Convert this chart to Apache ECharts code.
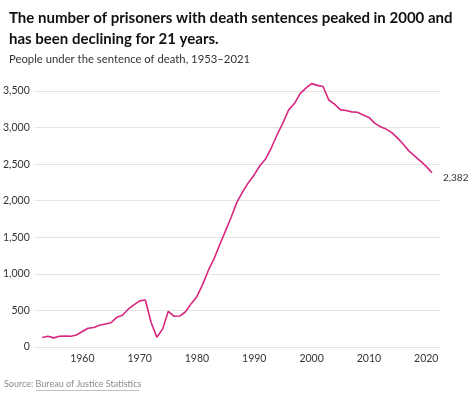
<!DOCTYPE html>
<html>
<head>
<meta charset="utf-8">
<script src="https://cdn.jsdelivr.net/npm/echarts@6/dist/echarts.min.js"></script>
<style>
  html, body { margin: 0; padding: 0; background: #fff; }
  #chart { width: 474px; height: 396px; }
</style>
</head>
<body>
<div id="chart"></div>
<script>
// people under sentence of death, year end
var years = [1953, 1954, 1955, 1956, 1957, 1958, 1959, 1960, 1961, 1962,
  1963, 1964, 1965, 1966, 1967, 1968, 1969, 1970, 1971, 1972,
  1973, 1974, 1975, 1976, 1977, 1978, 1979, 1980, 1981, 1982,
  1983, 1984, 1985, 1986, 1987, 1988, 1989, 1990, 1991, 1992,
  1993, 1994, 1995, 1996, 1997, 1998, 1999, 2000, 2001, 2002,
  2003, 2004, 2005, 2006, 2007, 2008, 2009, 2010, 2011, 2012,
  2013, 2014, 2015, 2016, 2017, 2018, 2019, 2020, 2021];
var prisoners = [131, 147, 125, 146, 151, 147, 164, 212, 257, 267,
  297, 315, 331, 406, 435, 517, 575, 631, 642, 334,
  134, 244, 488, 420, 423, 482, 593, 691, 856, 1050,
  1209, 1405, 1591, 1781, 1984, 2124, 2250, 2356, 2482, 2575,
  2727, 2905, 3064, 3242, 3328, 3465, 3540, 3601, 3577, 3562,
  3377, 3320, 3245, 3233, 3215, 3210, 3173, 3139, 3060, 3011,
  2979, 2930, 2856, 2771, 2678, 2610, 2541, 2469, 2382];
var xTicks = [1960, 1970, 1980, 1990, 2000, 2010, 2020];

var font = 'Lato, "Noto Sans", sans-serif';
var lineColor = '#d6267f';

var chart = echarts.init(document.getElementById('chart'));
chart.setOption({
  animation: false,
  textStyle: { fontFamily: font },
  title: [
    {
      text: 'The number of prisoners with death sentences peaked in 2000 and\nhas been declining for 21 years.',
      left: 4, top: 3,
      textStyle: { fontSize: 15, fontWeight: 'bold', color: '#111', lineHeight: 21, fontFamily: font }
    },
    {
      text: 'People under the sentence of death, 1953\u20132021',
      left: 4, top: 49,
      textStyle: { fontSize: 11.3, fontWeight: 'normal', color: '#333', fontFamily: font }
    }
  ],
  graphic: [
    {
      type: 'text', left: 4, top: 380,
      style: {
        text: 'Source: Bureau of Justice Statistics',
        fill: '#8a8a8a', font: '9px ' + font
      }
    },
    {
      // link underline
      type: 'line', silent: true,
      shape: { x1: 36, y1: 390.5, x2: 139, y2: 390.5 },
      style: { stroke: '#b0b0b0', lineWidth: 0.8 }
    }
  ],
  grid: { left: 31, right: 34, top: 91, bottom: 49 },
  xAxis: {
    type: 'value',
    min: 1951.7, max: 2022.4,
    axisLine: { show: false },
    axisTick: { show: false },
    splitLine: { show: false },
    axisLabel: {
      customValues: xTicks,
      formatter: function (v) { return String(v); },
      color: '#333', fontSize: 10.5, margin: 6
    }
  },
  yAxis: {
    type: 'value',
    min: 0, max: 3500, interval: 500,
    axisLine: { show: false },
    axisTick: { show: false },
    splitLine: { lineStyle: { color: '#e4e4e4', width: 1 } },
    axisLabel: {
      color: '#333', fontSize: 10.5, margin: 5,
      formatter: function (v) { return v.toLocaleString('en-US'); }
    }
  },
  series: [{
    type: 'line',
    clip: false,
    symbol: 'none',
    data: years.map(function (y, i) { return [y, prisoners[i]]; }),
    lineStyle: { color: lineColor, width: 1.6 },
    endLabel: {
      show: true,
      color: '#333', fontSize: 10, offset: [3, 5],
      formatter: function (p) { return p.value[1].toLocaleString('en-US'); }
    }
  }]
});
</script>
</body>
</html>
